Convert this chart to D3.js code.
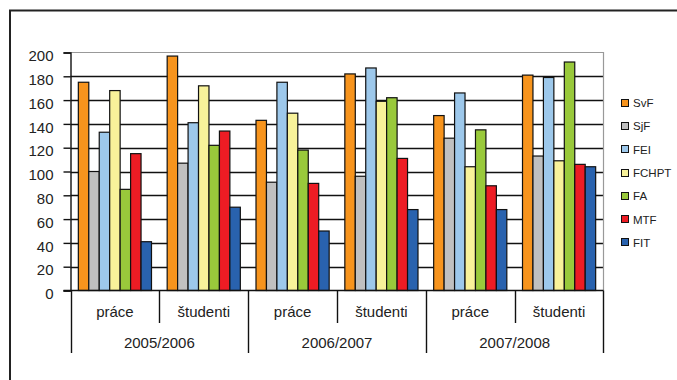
<!DOCTYPE html>
<html>
<head>
<meta charset="utf-8">
<script src="https://cdn.jsdelivr.net/npm/d3@7"></script>
<style>
  html, body { margin: 0; padding: 0; background: #fff; }
  svg { display: block; }
  text { font-family: "Liberation Sans", Arial, sans-serif; fill: #222; }
</style>
</head>
<body>
<svg id="chart" width="677" height="380"></svg>
<script>
// Academic years and the two groups shown for each year
const years = ["2005/2006", "2006/2007", "2007/2008"];
const groups = ["práce", "študenti"];

// Faculties (series) and their fill colours
const faculties = ["SvF", "SjF", "FEI", "FCHPT", "FA", "MTF", "FIT"];
const colors = ["#F7941D", "#C0C0C0", "#9DC8EB", "#F8F29A", "#99C93B", "#ED1C24", "#2962AE"];

// Values per faculty, ordered: 05/06 práce, 05/06 študenti, 06/07 práce, 06/07 študenti, 07/08 práce, 07/08 študenti
const SvF   = [175, 197, 143, 182, 147, 181];
const SjF   = [100, 107,  91,  96, 128, 113];
const FEI   = [133, 141, 175, 187, 166, 179];
const FCHPT = [168, 172, 149, 159, 104, 109];
const FA    = [ 85, 122, 118, 162, 135, 192];
const MTF   = [115, 134,  90, 111,  88, 106];
const FIT   = [ 41,  70,  50,  68,  68, 104];

const yTicks = [0, 20, 40, 60, 80, 100, 120, 140, 160, 180, 200];

const seriesValues = [SvF, SjF, FEI, FCHPT, FA, MTF, FIT];
const categories = [];
years.forEach(y => groups.forEach(g => categories.push(y + "|" + g)));

const svg = d3.select("#chart");

// Outer frame of the chart object
svg.append("rect")
  .attr("x", 10).attr("y", 10.5)
  .attr("width", 720).attr("height", 420)
  .attr("fill", "none").attr("stroke", "#222").attr("stroke-width", 2);

const plotLeft = 70.5, plotRight = 603.5, plotTop = 52.5, plotBottom = 290.5;

const x0 = d3.scaleBand().domain(categories).range([plotLeft, plotRight]).padding(0);
const x1 = d3.scaleBand().domain(faculties).range([0, x0.bandwidth()])
  .paddingInner(0).paddingOuter(0.75);
const y = d3.scaleLinear().domain([0, 200]).range([plotBottom, plotTop]);

// Horizontal gridlines
svg.append("g").selectAll("line")
  .data(yTicks.filter(t => t > 0 && t < 200))
  .join("line")
  .attr("x1", plotLeft).attr("x2", plotRight)
  .attr("y1", d => Math.round(y(d)) + 0.5).attr("y2", d => Math.round(y(d)) + 0.5)
  .attr("stroke", "#111").attr("stroke-width", 1.4);

// Plot area border (top and right)
svg.append("path")
  .attr("d", `M${plotLeft},${plotTop}H${plotRight}V${plotBottom}`)
  .attr("fill", "none").attr("stroke", "#999").attr("stroke-width", 1.2);

// Bars
const barData = [];
categories.forEach((c, ci) => {
  faculties.forEach((f, fi) => {
    barData.push({ cat: c, fac: f, value: seriesValues[fi][ci], color: colors[fi] });
  });
});

svg.append("g").selectAll("rect")
  .data(barData)
  .join("rect")
  .attr("x", d => x0(d.cat) + x1(d.fac))
  .attr("y", d => y(d.value))
  .attr("width", x1.bandwidth())
  .attr("height", d => y(0) - y(d.value))
  .attr("fill", d => d.color)
  .attr("stroke", "#111").attr("stroke-width", 1.2);

// Y axis
const yAxis = d3.axisLeft(y).tickValues(yTicks).tickSize(7).tickPadding(10);
const gy = svg.append("g").attr("transform", `translate(${plotLeft},0)`).call(yAxis);
gy.select(".domain").attr("stroke", "#111").attr("stroke-width", 1.4);
gy.selectAll(".tick line").attr("stroke", "#111").attr("stroke-width", 1.4);
gy.selectAll(".tick text")
  .attr("font-size", 15).attr("dy", "0.55em")
  .style("font-family", "'Liberation Sans', Arial, sans-serif").attr("fill", "#222");

// Baseline
svg.append("line")
  .attr("x1", plotLeft - 7).attr("x2", plotRight)
  .attr("y1", plotBottom).attr("y2", plotBottom)
  .attr("stroke", "#111").attr("stroke-width", 1.4);

// Category dividers: short ones between groups, long ones between years
categories.forEach((c, i) => {
  const xs = Math.round(x0(c)) + 0.5;
  const isYear = i % groups.length === 0;
  svg.append("line")
    .attr("x1", xs).attr("x2", xs)
    .attr("y1", plotBottom).attr("y2", isYear ? 353 : 323)
    .attr("stroke", "#111").attr("stroke-width", 1.4);
});
svg.append("line")
  .attr("x1", plotRight).attr("x2", plotRight)
  .attr("y1", plotBottom).attr("y2", 353)
  .attr("stroke", "#111").attr("stroke-width", 1.4);

// Group labels
svg.append("g").selectAll("text")
  .data(categories)
  .join("text")
  .attr("x", d => x0(d) + x0.bandwidth() / 2)
  .attr("y", 317)
  .attr("text-anchor", "middle")
  .attr("font-size", 15)
  .text(d => d.split("|")[1]);

// Year labels
const yearWidth = x0.bandwidth() * groups.length;
svg.append("g").selectAll("text")
  .data(years)
  .join("text")
  .attr("x", (d, i) => plotLeft + yearWidth * i + yearWidth / 2)
  .attr("y", 348)
  .attr("text-anchor", "middle")
  .attr("font-size", 15)
  .text(d => d);

// Legend
const legend = svg.append("g").attr("transform", "translate(621,0)");
faculties.forEach((f, i) => {
  const cy = 102.7 + i * 23.27;
  legend.append("rect")
    .attr("x", 0.5).attr("y", Math.round(cy - 4) + 0.5)
    .attr("width", 7).attr("height", 7)
    .attr("fill", colors[i]).attr("stroke", "#111");
  legend.append("text")
    .attr("x", 12).attr("y", cy + 4.5)
    .attr("font-size", 11.5)
    .text(f);
});
</script>
</body>
</html>
